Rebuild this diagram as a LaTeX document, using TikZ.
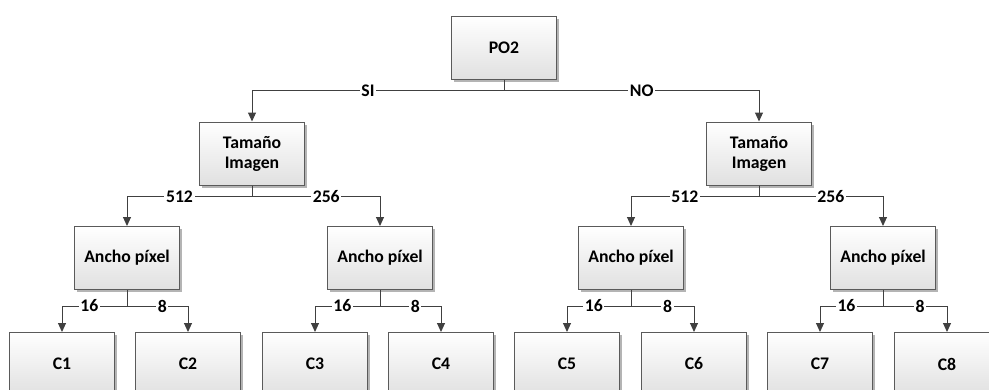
\documentclass[tikz,border=0pt]{standalone}
\usepackage{fontspec}
\setmainfont{Carlito}
\usetikzlibrary{arrows.meta,shadows}
\definecolor{linegray}{RGB}{64,64,64}
\definecolor{boxgray}{RGB}{90,90,90}

\begin{document}
\begin{tikzpicture}[x=.5pt,y=-.5pt,box/.style={draw=boxgray,line width=.5pt,top color=white,bottom color=black!12,drop shadow={shadow xshift=1.4pt,shadow yshift=-1.4pt,fill=black!45,opacity=.65},minimum width=52.5pt,minimum height=31.5pt,align=center,inner sep=2pt,font=\fontsize{8.85}{10}\selectfont\bfseries},arr/.style={-{Triangle[width=4pt,length=4.5pt]},line width=.5pt,draw=linegray},lbl/.style={fill=white,inner sep=.8pt,font=\fontsize{8.85}{10}\selectfont\bfseries}]

\useasboundingbox (0,0) rectangle (989,390);
\clip (0,0) rectangle (989,390);

\node[box] (po2) at(504,48) {PO2};
\node[box] (tam1) at(252,153.5) {Tamaño\\Imagen};
\node[box] (tam2) at(759,153.5) {Tamaño\\Imagen};
\node[box] (anc1) at(127,258) {Ancho píxel};
\node[box] (anc2) at(380,258) {Ancho píxel};
\node[box] (anc3) at(631,258) {Ancho píxel};
\node[box] (anc4) at(883,258) {Ancho píxel};
\node[box] (c1) at(62,364) {C1};
\node[box] (c2) at(188,364) {C2};
\node[box] (c3) at(315,364) {C3};
\node[box] (c4) at(441,364) {C4};
\node[box] (c5) at(567,364) {C5};
\node[box] (c6) at(694,364) {C6};
\node[box] (c7) at(820,364) {C7};
\node[box] (c8) at(947,364) {C8};

\draw[arr](po2.south)--++(0,11)-|node[lbl,pos=.27]{SI}(tam1.north);
\draw[arr](po2.south)--++(0,11)-|node[lbl,pos=.27]{NO}(tam2.north);
\draw[arr](tam1.south)--++(0,11)-|node[lbl,pos=.29]{512}(anc1.north);
\draw[arr](tam1.south)--++(0,11)-|node[lbl,pos=.29]{256}(anc2.north);
\draw[arr](tam2.south)--++(0,11)-|node[lbl,pos=.29]{512}(anc3.north);
\draw[arr](tam2.south)--++(0,11)-|node[lbl,pos=.29]{256}(anc4.north);
\draw[arr](anc1.south)--++(0,16)-|node[lbl,pos=.29]{16}(c1.north);
\draw[arr](anc1.south)--++(0,16)-|node[lbl,pos=.29]{8}(c2.north);
\draw[arr](anc2.south)--++(0,16)-|node[lbl,pos=.29]{16}(c3.north);
\draw[arr](anc2.south)--++(0,16)-|node[lbl,pos=.29]{8}(c4.north);
\draw[arr](anc3.south)--++(0,16)-|node[lbl,pos=.29]{16}(c5.north);
\draw[arr](anc3.south)--++(0,16)-|node[lbl,pos=.29]{8}(c6.north);
\draw[arr](anc4.south)--++(0,16)-|node[lbl,pos=.29]{16}(c7.north);
\draw[arr](anc4.south)--++(0,16)-|node[lbl,pos=.29]{8}(c8.north);
\end{tikzpicture}
\end{document}
